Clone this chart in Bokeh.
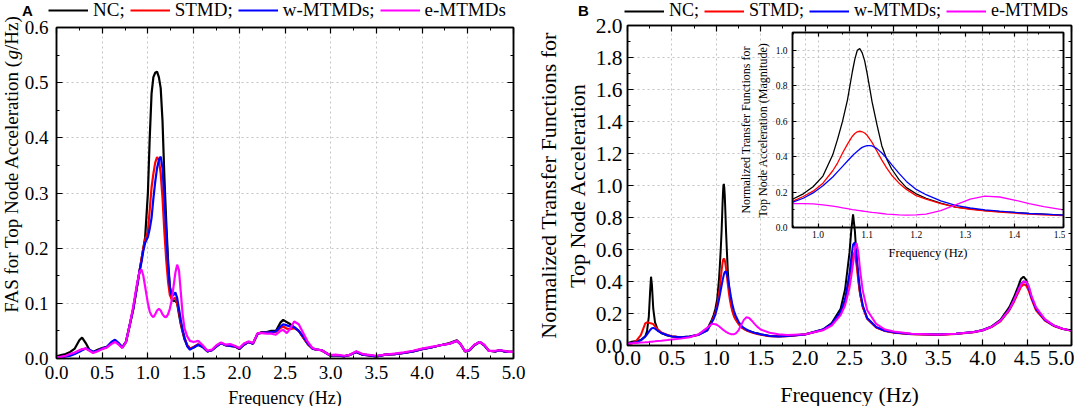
import numpy as np
from bokeh.plotting import figure
from bokeh.models import (ColumnDataSource, Range1d, FixedTicker, LinearAxis, Legend,
                          LegendItem, Label, PrintfTickFormatter, GridBox, Column)
from bokeh.embed import file_html
from bokeh.resources import INLINE

SERIF = "Liberation Serif"
SANS = "Liberation Sans"
SERIES = ["NC;", "STMD;", "w-MTMDs;", "e-MTMDs"]
COLORS = ["#000000", "#ff0000", "#0000ff", "#ff00ff"]

# ---------------- Panel A : Fourier amplitude spectra ----------------
freq_a = [0.0, 0.05, 0.1, 0.15, 0.2, 0.25, 0.28, 0.32, 0.36, 0.4,
          0.45, 0.5, 0.55, 0.6, 0.64, 0.68, 0.72, 0.76, 0.8, 0.84,
          0.88, 0.91, 0.93, 0.95, 0.97, 1.0, 1.02, 1.04, 1.06, 1.08,
          1.1, 1.12, 1.14, 1.16, 1.18, 1.2, 1.22, 1.24, 1.26, 1.28,
          1.3, 1.32, 1.34, 1.36, 1.38, 1.4, 1.43, 1.46, 1.5, 1.55,
          1.6, 1.65, 1.7, 1.75, 1.8, 1.85, 1.9, 1.95, 2.0, 2.05,
          2.1, 2.15, 2.2, 2.25, 2.3, 2.35, 2.4, 2.45, 2.48, 2.52,
          2.56, 2.6, 2.65, 2.7, 2.75, 2.8, 2.85, 2.9, 2.95, 3.0,
          3.05, 3.1, 3.15, 3.2, 3.28, 3.35, 3.4, 3.5, 3.6, 3.7,
          3.8, 3.9, 4.0, 4.1, 4.2, 4.3, 4.38, 4.42, 4.47, 4.52,
          4.57, 4.63, 4.68, 4.73, 4.8, 4.85, 4.9, 4.95, 5.0]

fas_nc = [0.004, 0.006, 0.008, 0.012, 0.018, 0.033, 0.038, 0.028, 0.016, 0.012,
          0.016, 0.019, 0.021, 0.028, 0.033, 0.027, 0.02, 0.03, 0.06, 0.09,
          0.13, 0.16, 0.18, 0.2, 0.22, 0.3, 0.4, 0.48, 0.51, 0.518,
          0.52, 0.51, 0.49, 0.43, 0.33, 0.25, 0.18, 0.13, 0.108, 0.104,
          0.105, 0.1, 0.08, 0.062, 0.048, 0.035, 0.024, 0.018, 0.02, 0.025,
          0.021, 0.013, 0.015, 0.022, 0.028, 0.024, 0.023, 0.022, 0.017, 0.025,
          0.03, 0.027, 0.045, 0.048, 0.048, 0.05, 0.05, 0.065, 0.07, 0.066,
          0.062, 0.057, 0.05, 0.038, 0.026, 0.018, 0.016, 0.015, 0.01, 0.005,
          0.006, 0.005, 0.004, 0.006, 0.012, 0.007, 0.006, 0.004, 0.007, 0.008,
          0.01, 0.013, 0.017, 0.02, 0.024, 0.028, 0.033, 0.026, 0.013, 0.015,
          0.024, 0.03, 0.024, 0.014, 0.013, 0.015, 0.013, 0.012, 0.012]

fas_stmd = [0.002, 0.003, 0.004, 0.006, 0.01, 0.014, 0.016, 0.018, 0.015, 0.011,
            0.014, 0.018, 0.02, 0.028, 0.033, 0.027, 0.02, 0.03, 0.06, 0.09,
            0.13, 0.16, 0.18, 0.2, 0.215, 0.23, 0.27, 0.31, 0.335, 0.355,
            0.365, 0.36, 0.335, 0.29, 0.23, 0.18, 0.14, 0.115, 0.108, 0.108,
            0.11, 0.1, 0.085, 0.065, 0.05, 0.038, 0.024, 0.018, 0.021, 0.026,
            0.022, 0.013, 0.015, 0.022, 0.028, 0.024, 0.023, 0.022, 0.018, 0.025,
            0.03, 0.027, 0.045, 0.047, 0.047, 0.048, 0.048, 0.055, 0.058, 0.054,
            0.053, 0.055, 0.05, 0.038, 0.026, 0.018, 0.016, 0.015, 0.01, 0.005,
            0.006, 0.005, 0.004, 0.006, 0.012, 0.007, 0.006, 0.004, 0.007, 0.008,
            0.01, 0.013, 0.017, 0.02, 0.024, 0.027, 0.032, 0.026, 0.013, 0.015,
            0.024, 0.03, 0.024, 0.014, 0.013, 0.015, 0.013, 0.012, 0.012]

fas_w = [0.002, 0.003, 0.004, 0.005, 0.008, 0.012, 0.015, 0.018, 0.016, 0.012,
         0.014, 0.018, 0.021, 0.03, 0.034, 0.028, 0.02, 0.03, 0.06, 0.09,
         0.13, 0.16, 0.175, 0.195, 0.21, 0.22, 0.235, 0.255, 0.29, 0.32,
         0.345, 0.36, 0.366, 0.345, 0.29, 0.23, 0.17, 0.13, 0.115, 0.115,
         0.12, 0.11, 0.09, 0.07, 0.052, 0.038, 0.022, 0.016, 0.02, 0.025,
         0.021, 0.013, 0.015, 0.022, 0.028, 0.024, 0.023, 0.022, 0.018, 0.025,
         0.03, 0.027, 0.045, 0.047, 0.047, 0.048, 0.049, 0.058, 0.062, 0.06,
         0.058, 0.057, 0.05, 0.04, 0.027, 0.018, 0.016, 0.015, 0.01, 0.005,
         0.006, 0.005, 0.004, 0.006, 0.012, 0.007, 0.006, 0.004, 0.007, 0.008,
         0.01, 0.013, 0.017, 0.02, 0.024, 0.027, 0.032, 0.026, 0.013, 0.015,
         0.024, 0.03, 0.024, 0.014, 0.013, 0.015, 0.013, 0.012, 0.012]

fas_e = [0.002, 0.003, 0.005, 0.008, 0.011, 0.015, 0.017, 0.018, 0.014, 0.01,
         0.013, 0.017, 0.02, 0.026, 0.03, 0.025, 0.019, 0.03, 0.06, 0.095,
         0.135, 0.158, 0.161, 0.15, 0.13, 0.1, 0.085, 0.078, 0.075, 0.08,
         0.087, 0.09, 0.087, 0.08, 0.076, 0.075, 0.08, 0.09, 0.105, 0.13,
         0.155, 0.17, 0.16, 0.12, 0.08, 0.055, 0.04, 0.032, 0.03, 0.032,
         0.024, 0.014, 0.016, 0.024, 0.029, 0.025, 0.026, 0.023, 0.019, 0.027,
         0.031, 0.028, 0.046, 0.046, 0.045, 0.045, 0.043, 0.05, 0.052, 0.046,
         0.055, 0.067, 0.062, 0.046, 0.03, 0.019, 0.016, 0.015, 0.01, 0.006,
         0.007, 0.006, 0.005, 0.006, 0.013, 0.008, 0.007, 0.005, 0.007, 0.009,
         0.011, 0.014, 0.018, 0.021, 0.024, 0.027, 0.032, 0.026, 0.013, 0.016,
         0.025, 0.03, 0.025, 0.014, 0.014, 0.015, 0.014, 0.012, 0.012]

# ---------------- Panel B : normalized transfer functions (main + inset) ----------------
freq_b = [0.0, 0.05, 0.1, 0.15, 0.2, 0.22, 0.24, 0.255, 0.265, 0.275,
          0.29, 0.31, 0.34, 0.38, 0.45, 0.5, 0.6, 0.7, 0.8, 0.9,
          0.95, 0.97, 0.99, 1.01, 1.03, 1.04, 1.05, 1.06, 1.07, 1.075,
          1.08, 1.085, 1.09, 1.095, 1.1, 1.105, 1.11, 1.12, 1.13, 1.14,
          1.15, 1.165, 1.18, 1.2, 1.22, 1.25, 1.28, 1.31, 1.34, 1.37,
          1.4, 1.43, 1.46, 1.5, 1.6, 1.7, 1.8, 2.0, 2.2, 2.3,
          2.4, 2.45, 2.5, 2.52, 2.54, 2.56, 2.58, 2.6, 2.62, 2.65,
          2.7, 2.8, 2.9, 3.0, 3.2, 3.5, 3.7, 3.9, 4.0, 4.1,
          4.2, 4.3, 4.35, 4.4, 4.43, 4.46, 4.49, 4.52, 4.55, 4.6,
          4.7, 4.8, 4.9, 5.0]

tf_nc = [0.015, 0.024, 0.028, 0.035, 0.058, 0.09, 0.18, 0.34, 0.43, 0.38,
         0.23, 0.145, 0.1, 0.078, 0.062, 0.056, 0.052, 0.056, 0.068, 0.105,
         0.162, 0.19, 0.23, 0.29, 0.41, 0.5, 0.6, 0.72, 0.88, 0.95,
         1.0, 1.01, 0.985, 0.94, 0.87, 0.79, 0.71, 0.58, 0.46, 0.385,
         0.33, 0.27, 0.225, 0.19, 0.165, 0.138, 0.115, 0.105, 0.096, 0.09,
         0.085, 0.08, 0.076, 0.07, 0.06, 0.058, 0.06, 0.07, 0.1, 0.14,
         0.23, 0.35, 0.58, 0.72, 0.82, 0.72, 0.55, 0.42, 0.32, 0.24,
         0.17, 0.115, 0.092, 0.082, 0.072, 0.068, 0.074, 0.085, 0.097, 0.12,
         0.16, 0.24, 0.3, 0.37, 0.415, 0.43, 0.41, 0.36, 0.3, 0.23,
         0.16, 0.125, 0.105, 0.093]

tf_stmd = [0.003, 0.012, 0.03, 0.065, 0.138, 0.145, 0.142, 0.14, 0.138, 0.137,
           0.133, 0.12, 0.1, 0.082, 0.066, 0.058, 0.052, 0.055, 0.066, 0.095,
           0.15, 0.175, 0.205, 0.25, 0.32, 0.365, 0.42, 0.47, 0.515, 0.53,
           0.54, 0.543, 0.54, 0.533, 0.52, 0.5, 0.48, 0.43, 0.38, 0.335,
           0.295, 0.25, 0.215, 0.18, 0.16, 0.135, 0.115, 0.103, 0.094, 0.087,
           0.081, 0.076, 0.072, 0.067, 0.058, 0.056, 0.058, 0.068, 0.097, 0.13,
           0.2, 0.27, 0.42, 0.5, 0.57, 0.58, 0.5, 0.4, 0.32, 0.24,
           0.165, 0.112, 0.09, 0.08, 0.071, 0.066, 0.072, 0.083, 0.094, 0.115,
           0.15, 0.22, 0.27, 0.33, 0.365, 0.383, 0.375, 0.34, 0.29, 0.22,
           0.155, 0.122, 0.103, 0.092]

tf_w = [0.01, 0.015, 0.02, 0.032, 0.055, 0.07, 0.085, 0.097, 0.103, 0.108,
        0.11, 0.105, 0.092, 0.078, 0.064, 0.057, 0.052, 0.056, 0.067, 0.095,
        0.145, 0.165, 0.195, 0.235, 0.285, 0.315, 0.345, 0.375, 0.405, 0.418,
        0.43, 0.442, 0.452, 0.458, 0.462, 0.462, 0.46, 0.445, 0.42, 0.39,
        0.355, 0.305, 0.26, 0.215, 0.185, 0.15, 0.125, 0.11, 0.1, 0.092,
        0.085, 0.079, 0.075, 0.07, 0.06, 0.057, 0.059, 0.069, 0.1, 0.135,
        0.21, 0.29, 0.45, 0.55, 0.63, 0.645, 0.56, 0.44, 0.34, 0.25,
        0.17, 0.115, 0.092, 0.082, 0.072, 0.068, 0.073, 0.084, 0.095, 0.117,
        0.155, 0.225, 0.28, 0.345, 0.385, 0.4, 0.395, 0.36, 0.3, 0.23,
        0.16, 0.124, 0.104, 0.093]

tf_e = [0.012, 0.014, 0.016, 0.018, 0.02, 0.021, 0.022, 0.023, 0.023, 0.024,
        0.025, 0.026, 0.028, 0.03, 0.034, 0.037, 0.043, 0.052, 0.07, 0.112,
        0.135, 0.135, 0.133, 0.128, 0.12, 0.116, 0.111, 0.106, 0.101, 0.099,
        0.097, 0.095, 0.093, 0.091, 0.089, 0.087, 0.085, 0.082, 0.079, 0.076,
        0.074, 0.071, 0.07, 0.071, 0.076, 0.095, 0.128, 0.16, 0.177, 0.172,
        0.155, 0.135, 0.118, 0.1, 0.08, 0.07, 0.066, 0.07, 0.095, 0.125,
        0.19, 0.25, 0.36, 0.43, 0.51, 0.6, 0.64, 0.58, 0.47, 0.34,
        0.22, 0.135, 0.1, 0.087, 0.074, 0.068, 0.073, 0.084, 0.095, 0.117,
        0.155, 0.225, 0.28, 0.345, 0.38, 0.4, 0.398, 0.37, 0.31, 0.24,
        0.165, 0.126, 0.105, 0.094]

for arr in (fas_nc, fas_stmd, fas_w, fas_e):
    assert len(arr) == len(freq_a)
for arr in (tf_nc, tf_stmd, tf_w, tf_e):
    assert len(arr) == len(freq_b)

src_a = ColumnDataSource(dict(f=freq_a, nc=fas_nc, stmd=fas_stmd, w=fas_w, e=fas_e))
src_b = ColumnDataSource(dict(f=freq_b, nc=tf_nc, stmd=tf_stmd, w=tf_w, e=tf_e))
KEYS = ["nc", "stmd", "w", "e"]


def make_fig(w, h, xr, yr, borders, transparent=False):
    l, r, t, b = borders
    p = figure(width=w, height=h, x_range=Range1d(*xr), y_range=Range1d(*yr),
               output_backend="svg", toolbar_location=None,
               min_border_left=l, min_border_right=r, min_border_top=t, min_border_bottom=b)
    p.outline_line_color = "black"
    p.outline_line_width = 1.5
    if transparent:
        p.background_fill_alpha = 0
        p.border_fill_alpha = 0
    return p


def dress(p, xt, xm, yt, ym, tick_px, maj, mino, xs, ys):
    xtk = FixedTicker(ticks=xt, minor_ticks=xm)
    ytk = FixedTicker(ticks=yt, minor_ticks=ym)
    bottom, left = p.below[0], p.left[0]
    bottom.ticker, left.ticker = xtk, ytk
    bottom.formatter = PrintfTickFormatter(format="%.1f")
    left.formatter = PrintfTickFormatter(format="%.1f")
    bottom.major_label_standoff = xs
    left.major_label_standoff = ys
    # mirrored tick-only axes on the top and right edges (labels not drawn)
    top = LinearAxis(ticker=xtk, major_label_text_font_size="1px", major_label_standoff=0,
                     major_label_text_color=None)
    right = LinearAxis(ticker=ytk, major_label_text_font_size="1px", major_label_standoff=0,
                       major_label_text_color=None)
    p.add_layout(top, "above")
    p.add_layout(right, "right")
    for ax in (bottom, left, top, right):
        ax.axis_line_color = "black"
        ax.axis_line_width = 1.5
        ax.major_tick_in = maj
        ax.major_tick_out = 0
        ax.minor_tick_in = mino
        ax.minor_tick_out = 0
        ax.major_tick_line_width = 1.2
        ax.minor_tick_line_width = 1.0
        ax.major_tick_line_color = "black"
        ax.minor_tick_line_color = "black"
        ax.major_label_text_font = SERIF
        ax.axis_label_text_font = SERIF
        ax.axis_label_text_font_style = "normal"
        ax.axis_label_text_color = "black"
    for ax in (bottom, left):
        ax.major_label_text_font_size = tick_px
        ax.major_label_text_color = "black"
    p.xgrid.ticker = xtk
    p.ygrid.ticker = ytk
    for g in (p.xgrid, p.ygrid):
        g.grid_line_color = "#c4c4c4"
        g.grid_line_dash = "2 3"
        g.grid_line_width = 1
    return p


def ticks(a, b, step):
    return [round(v, 3) for v in np.arange(a, b + step / 2, step)]


# ---------------- Figure A ----------------
pA = make_fig(537, 406, (0, 5), (0, 0.6), (56, 24, 27, 48))
dress(pA, ticks(0, 5, 0.5), ticks(0.25, 4.75, 0.5), ticks(0, 0.6, 0.1), ticks(0.05, 0.55, 0.1),
      "19px", 6, 3, 7, 8)
for k, c in zip(KEYS, COLORS):
    pA.line("f", k, source=src_a, line_color=c, line_width=2.2)

# ---------------- Figure B ----------------
pB = make_fig(537, 406, (0, 5), (0, 2.0), (90, 3, 25, 61))
dress(pB, ticks(0, 5, 0.5), ticks(0.25, 4.75, 0.5), ticks(0, 2.0, 0.2), ticks(0.1, 1.9, 0.2),
      "21.5px", 6, 3, 5, 5)
for k, c in zip(KEYS, COLORS):
    pB.line("f", k, source=src_b, line_color=c, line_width=2.0)

# ---------------- Inset of B ----------------
pI = make_fig(330, 233, (0.948, 1.5), (0, 1.1), (50, 2, 2, 36), transparent=True)
dress(pI, ticks(1.0, 1.5, 0.1), ticks(0.95, 1.45, 0.1), ticks(0, 1.0, 0.2), ticks(0.1, 1.1, 0.2),
      "9.5px", 4, 2, 3, 5)
pI.below[0].axis_label = "Frequency (Hz)"
pI.below[0].axis_label_text_font_size = "12.5px"
pI.below[0].axis_label_standoff = 5
pI.left[0].axis_label = "Normalized Transfer Functions for\nTop Node Acceleration (Magnitude)"
pI.left[0].axis_label_text_font_size = "12px"
pI.left[0].axis_label_standoff = 3
for k, c in zip(KEYS, COLORS):
    pI.line("f", k, source=src_b, line_color=c, line_width=1.3)

# ---------------- Transparent overlay: panel letters, titles, legends ----------------
ov = figure(width=1074, height=406, x_range=Range1d(0, 1074), y_range=Range1d(406, 0),
            output_backend="svg", toolbar_location=None,
            x_axis_location=None, y_axis_location=None,
            min_border_left=0, min_border_right=0, min_border_top=0, min_border_bottom=0)
ov.grid.visible = False
ov.outline_line_color = None
ov.background_fill_alpha = 0
ov.border_fill_alpha = 0

keyA = [ov.line("f", k, source=src_a, line_color=c, line_width=2.2, visible=False)
        for k, c in zip(KEYS, COLORS)]
keyB = [ov.line("f", k, source=src_b, line_color=c, line_width=2.0, visible=False)
        for k, c in zip(KEYS, COLORS)]


def make_legend(rends, loc, size):
    return Legend(items=[LegendItem(label=n, renderers=[r]) for n, r in zip(SERIES, rends)],
                  orientation="horizontal", location=loc,
                  label_text_font=SERIF, label_text_font_size=size, label_text_color="black",
                  glyph_width=40, glyph_height=20, label_height=20, label_standoff=5,
                  spacing=5, padding=0, margin=0, border_line_alpha=0,
                  background_fill_alpha=0, click_policy="none")


ov.add_layout(make_legend(keyA, (48, 385), "19px"))
ov.add_layout(make_legend(keyB, (624, 385), "18px"))


def label(x, y, text, size, font=SERIF, angle=0.0, style="normal", align="center"):
    ov.add_layout(Label(x=x, y=y, text=text, angle=angle, text_align=align,
                        text_baseline="middle", text_font=font, text_font_size=size,
                        text_font_style=style, text_color="black"))


label(27, 10, "A", "15px", font=SANS, style="bold")
label(583, 10, "B", "15px", font=SANS, style="bold")
# A y-axis title, with the italic "g" of (g/Hz)
label(11, 59, "FAS for Top Node Acceleration (", "19px", angle=np.pi / 2, align="right")
label(11, 59, "g", "19px", angle=np.pi / 2, align="left", style="italic")
label(11, 49.5, "/Hz)", "19px", angle=np.pi / 2, align="left")
label(284.5, 397, "Frequency (Hz)", "18px")
label(849, 394, "Frequency (Hz)", "22px")
label(548, 185, "Normalized Transfer Functions for", "22px", angle=np.pi / 2)
label(577, 185, "Top Node Acceleration", "22px", angle=np.pi / 2)

# wrap every plot in its own column so the grid does not align their frames
wA = Column(children=[pA])
wB = Column(children=[pB])
wI = Column(children=[pI], margin=(30, 0, 0, 198))
wO = Column(children=[ov])
layout = GridBox(children=[(wA, 0, 0), (wB, 0, 1), (wI, 0, 1), (wO, 0, 0, 1, 2)])
open("out.html", "w").write(file_html(layout, INLINE))
